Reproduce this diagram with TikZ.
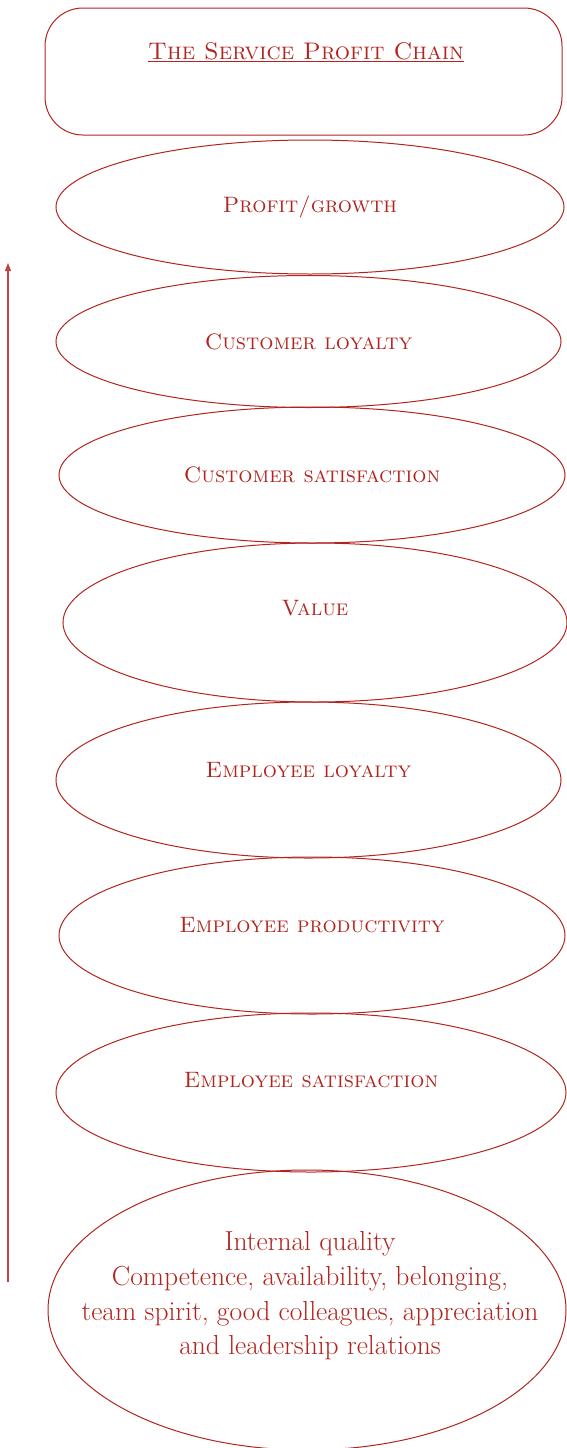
\documentclass[tikz,border=0pt]{standalone}
\usepackage{fontspec}
\usetikzlibrary{shapes.geometric,arrows.meta}
\definecolor{chainred}{RGB}{178,36,30}
\definecolor{arrowred}{RGB}{190,70,70}
\tikzset{
  chainell/.style={draw=chainred, line width=1pt, ellipse, inner sep=0pt},
  chaintext/.style={text=chainred, font=\fontsize{22.3}{26}\selectfont\scshape},
  bodytext/.style={text=chainred, align=center, font=\fontsize{27.5}{34.6}\selectfont},
  titlebox/.style={draw=chainred, line width=1pt, rounded corners=38pt, inner sep=0pt},
}
\begin{document}
\begin{tikzpicture}[x=1pt,y=-1pt]
\useasboundingbox (0,0) rectangle (566,1448);
\node[titlebox, minimum width=517pt, minimum height=127pt] (box) at (303.5,71.5) {};
\node[text=chainred, font=\fontsize{24}{28}\selectfont\scshape, inner sep=0pt] (title) at (306,52) {\underline{The Service Profit Chain}};

\node[chainell, minimum width=508pt, minimum height=134pt] (e1) at (310,207) {};
\node[chaintext] (t1) at (310,207) {Profit/growth};
\node[chainell, minimum width=505pt, minimum height=132pt] (e2) at (308.5,341.5) {};
\node[chaintext] (t2) at (308.5,341.5) {Customer loyalty};
\node[chainell, minimum width=506pt, minimum height=136pt] (e3) at (312,475) {};
\node[chaintext] (t3) at (312,475) {Customer satisfaction};
\node[chainell, minimum width=504pt, minimum height=159pt] (e4) at (315,622.5) {};
\node[chaintext] (t4) at (315,608) {Value};
\node[chainell, minimum width=505pt, minimum height=156pt] (e5) at (308.5,780) {};
\node[chaintext] (t5) at (308.5,770) {Employee loyalty};
\node[chainell, minimum width=506pt, minimum height=157pt] (e6) at (312,935.5) {};
\node[chaintext] (t6) at (312,925) {Employee productivity};
\node[chainell, minimum width=510pt, minimum height=159pt] (e7) at (311,1092.5) {};
\node[chaintext] (t7) at (311,1080) {Employee satisfaction};
\node[chainell, minimum width=518pt, minimum height=280pt] (e8) at (307,1310) {};
\node[bodytext] (t8) at (310,1296) {Internal quality\\Competence, availability, belonging,\\team spirit, good colleagues, appreciation\\and leadership relations};

\coordinate (abot) at (8,1282);
\coordinate (atop) at (8,263);
\draw[arrowred, line width=1.1pt, -{Triangle[width=6pt,length=8pt]}] (abot) -- (atop);
\end{tikzpicture}
\end{document}
